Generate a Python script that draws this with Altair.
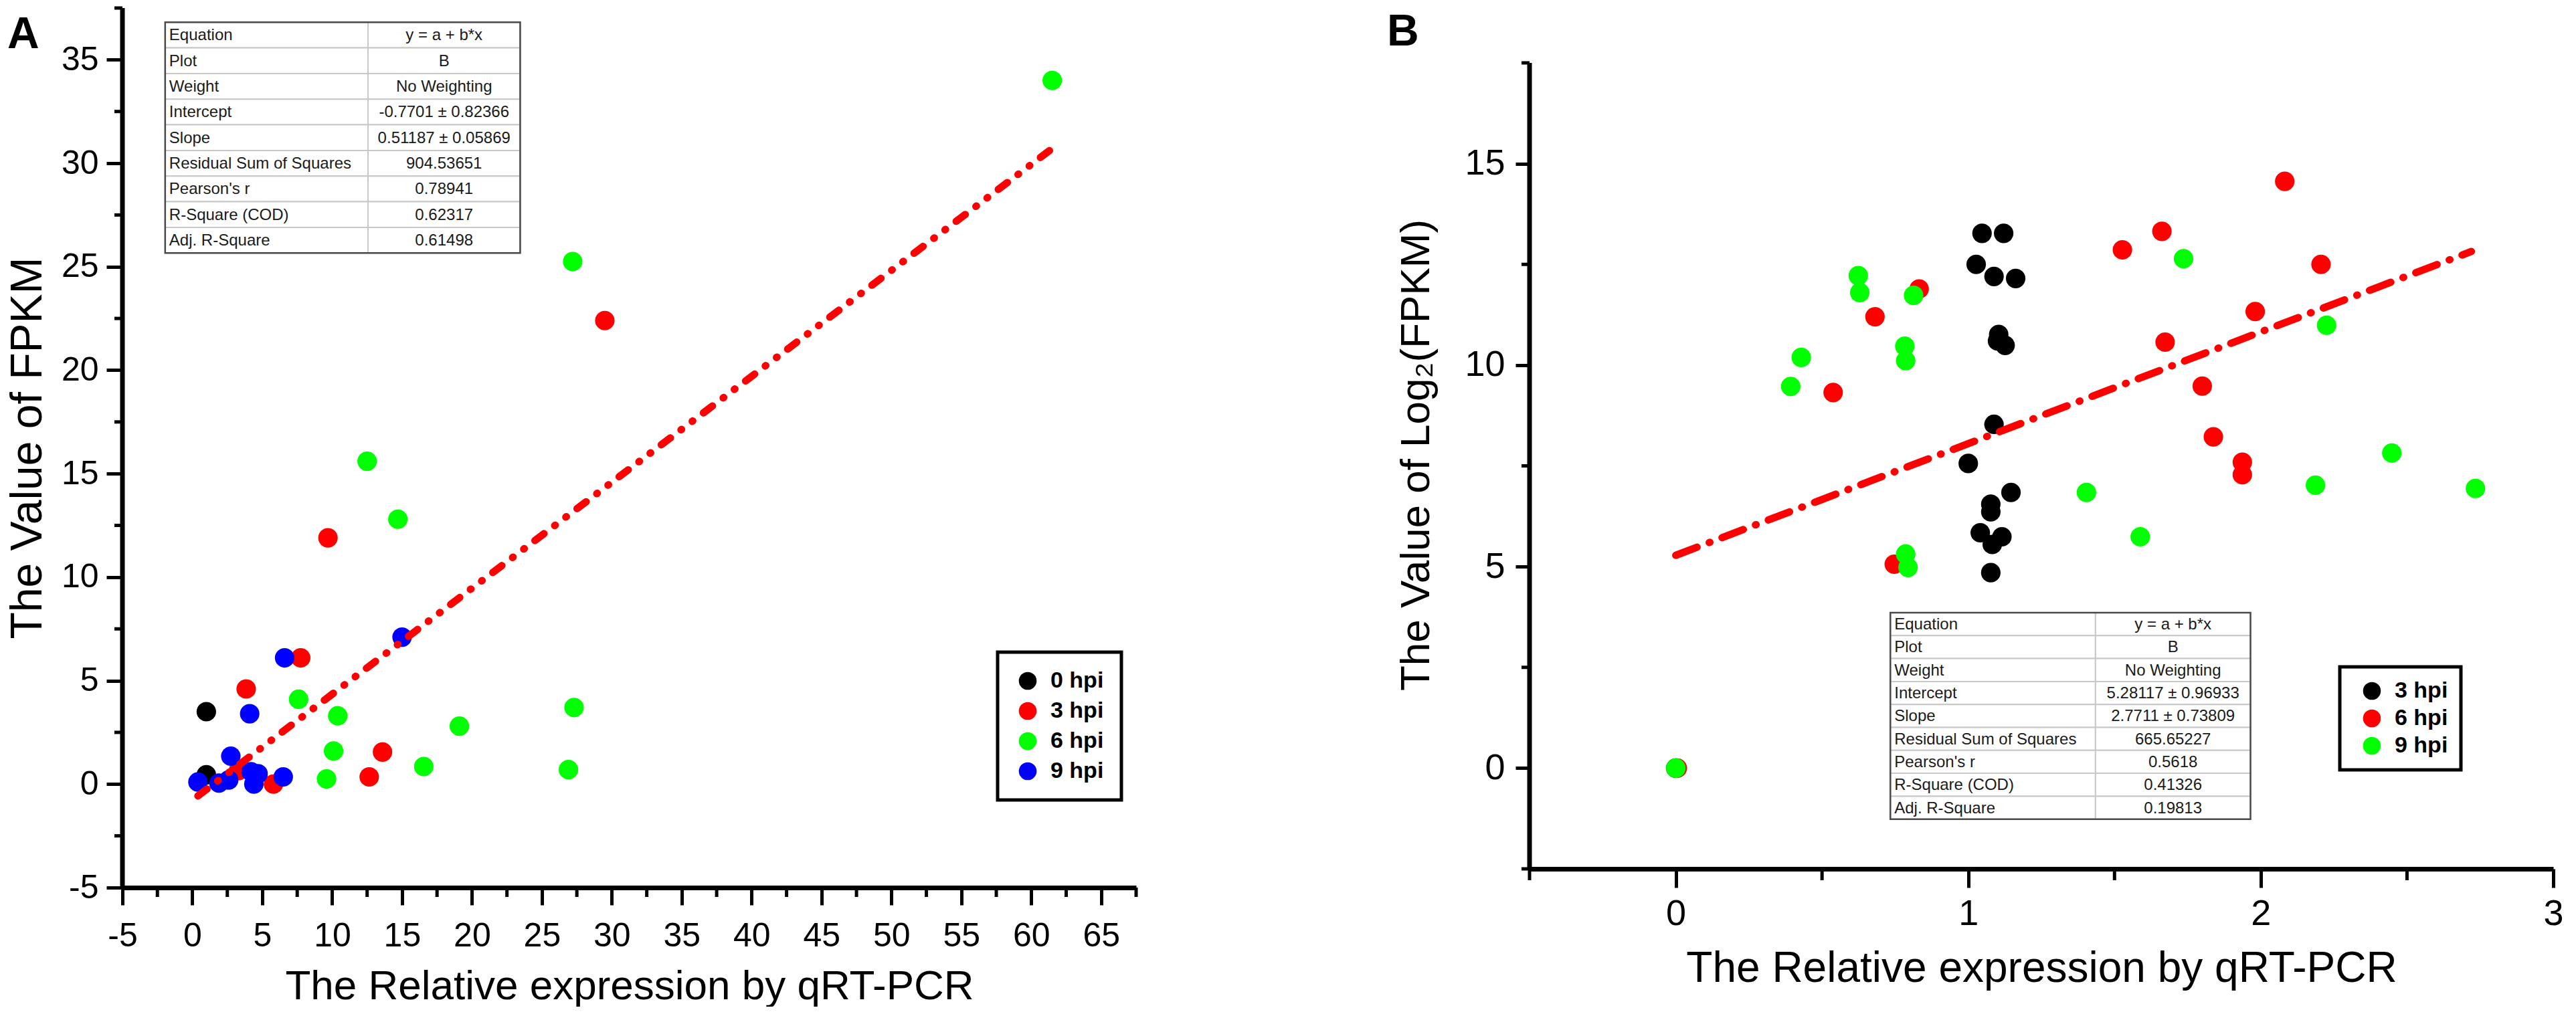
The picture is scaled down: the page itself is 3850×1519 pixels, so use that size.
import altair as alt
import pandas as pd

FONT = "Liberation Sans"
TFONT = "Liberation Sans"

# ---------------- Panel A data ----------------
A_GROUPS = ["0 hpi", "3 hpi", "6 hpi", "9 hpi"]
A_COLORS = ["#000000", "#ff0000", "#00ff00", "#0000ff"]
a0_x = [1.0, 1.0]
a0_y = [3.5, 0.45]
a3_x = [29.5, 9.7, 7.75, 3.85, 13.6, 12.65, 5.8, 3.3]
a3_y = [22.4, 11.9, 6.1, 4.6, 1.55, 0.35, 0.0, 0.65]
a6_x = [61.5, 27.2, 12.5, 14.7, 7.6, 10.4, 27.3, 19.1, 10.1, 16.55, 26.9, 9.6]
a6_y = [34.0, 25.25, 15.6, 12.8, 4.1, 3.3, 3.7, 2.8, 1.6, 0.85, 0.7, 0.25]
a9_x = [15.0, 6.6, 4.1, 2.75, 6.5, 0.4, 1.9, 2.6, 4.2, 4.4, 4.7]
a9_y = [7.1, 6.1, 3.4, 1.35, 0.35, 0.1, 0.05, 0.2, 0.6, 0.0, 0.5]
a_fit_x = [0.4, 61.5]
a_fit_y = [-0.57, 30.71]
A_XTICKS = list(range(-5, 70, 5))
A_YTICKS = list(range(-5, 40, 5))
A_XMINOR = [-2.5 + 5 * i for i in range(15)]
A_YMINOR = [-2.5 + 5 * i for i in range(9)]
A_YLINE = [-5, 37.5]
A_TABLE_KEYS = ["Equation", "Plot", "Weight", "Intercept", "Slope",
                "Residual Sum of Squares", "Pearson's r", "R-Square (COD)", "Adj. R-Square"]
A_TABLE_VALS = ["y = a + b*x", "B", "No Weighting", "-0.7701 ± 0.82366", "0.51187 ± 0.05869",
                "904.53651", "0.78941", "0.62317", "0.61498"]

# ---------------- Panel B data ----------------
B_GROUPS = ["3 hpi", "6 hpi", "9 hpi"]
B_COLORS = ["#000000", "#ff0000", "#00ff00"]
b3_x = [1.047, 1.121, 1.027, 1.088, 1.162, 1.104, 1.100, 1.126, 1.088, 1.000, 1.146,
        1.077, 1.077, 1.041, 1.115, 1.082, 1.077, 0.0]
b3_y = [13.27, 13.27, 12.50, 12.20, 12.15, 10.76, 10.60, 10.49, 8.53, 7.56, 6.84,
        6.55, 6.36, 5.84, 5.74, 5.55, 4.85, 0.0]
b6_x = [2.082, 1.662, 1.527, 2.206, 0.832, 0.681, 1.981, 1.673, 0.538, 1.800, 1.838,
        1.937, 1.937, 0.747, 0.005]
b6_y = [14.56, 13.32, 12.86, 12.50, 11.89, 11.20, 11.33, 10.57, 9.32, 9.48, 8.22,
        7.59, 7.28, 5.06, 0.0]
b9_x = [0.624, 0.629, 0.813, 1.736, 0.429, 0.393, 0.783, 0.786, 2.225, 2.448, 2.734,
        2.187, 1.404, 1.588, 0.786, 0.794, 0.0]
b9_y = [12.22, 11.80, 11.73, 12.64, 10.19, 9.47, 10.47, 10.11, 10.99, 7.82, 6.94,
        7.02, 6.84, 5.74, 5.31, 4.98, 0.0]
b_fit_x = [0.0, 2.72]
b_fit_y = [5.28, 12.82]
B_XTICKS = [0, 1, 2, 3]
B_YTICKS = [0, 5, 10, 15]
B_XMINOR = [-0.5, 0.5, 1.5, 2.5]
B_YMINOR = [-2.5, 2.5, 7.5, 12.5, 17.5]
B_YLINE = [-2.5, 17.5]
B_TABLE_KEYS = ["Equation", "Plot", "Weight", "Intercept", "Slope",
                "Residual Sum of Squares", "Pearson's r", "R-Square (COD)", "Adj. R-Square"]
B_TABLE_VALS = ["y = a + b*x", "B", "No Weighting", "5.28117 ± 0.96933", "2.7711 ± 0.73809",
                "665.65227", "0.5618", "0.41326", "0.19813"]

X_TITLE = "The Relative expression by qRT-PCR"


def points_df(groups, xs, ys):
    rows = []
    for g, xv, yv in zip(groups, xs, ys):
        for a, b in zip(xv, yv):
            rows.append({"x": a, "y": b, "g": g})
    return pd.DataFrame(rows)


def make_panel(df, fit_x, fit_y, dash, xdom, ydom, W, H, xticks, yticks, xminor, yminor, yline,
               ytitle, groups, colors, legend, letter, letter_xy, ax, ay, xminor_len, yminor_len,
               tkeys, tvals, tgeom, tfont):
    xaxis = alt.Axis(values=xticks, title=X_TITLE, tickSize=ax["tick"], tickWidth=5, tickColor="black",
                     domainColor="black", domainWidth=7, labelFontSize=ax["lsize"], labelFont=FONT,
                     labelColor="black", labelPadding=ax["lpad"], labelFlush=False, labelOverlap=False,
                     labelExpr="toString(datum.value)",
                     titleFont=FONT, titleFontSize=ax["tsize"], titleFontWeight="normal",
                     titleColor="black", titlePadding=ax["tpad"], grid=False)
    ykw = {}
    if ay.get("titleY") is not None:
        ykw["titleY"] = ay["titleY"]
    yaxis = alt.Axis(values=yticks, title=ytitle, tickSize=ay["tick"], tickWidth=5, tickColor="black",
                     domain=False, labelFontSize=ay["lsize"], labelFont=FONT,
                     labelColor="black", labelPadding=ay["lpad"], labelFlush=False, labelOverlap=False,
                     labelExpr="toString(datum.value)",
                     titleFont=FONT, titleFontSize=ay["tsize"], titleFontWeight="normal",
                     titleColor="black", titlePadding=ay["tpad"], grid=False, **ykw)
    xs = alt.Scale(domain=xdom, nice=False, zero=False)
    ys = alt.Scale(domain=ydom, nice=False, zero=False)
    X = lambda f: alt.X(f, scale=xs, axis=xaxis)
    Y = lambda f: alt.Y(f, scale=ys, axis=yaxis)

    # points first (carries the axes and legend)
    pts = alt.Chart(df).mark_circle(size=850, opacity=1).encode(
        x=X("x:Q"), y=Y("y:Q"),
        color=alt.Color("g:N", scale=alt.Scale(domain=groups, range=colors), legend=legend),
    )
    # y axis line (drawn as a rule over the axis span)
    yl = alt.Chart(pd.DataFrame({"a": [yline[0]], "b": [yline[1]]})).mark_rule(
        color="black", strokeWidth=7).encode(y=Y("a:Q"), y2="b:Q", x=alt.value(0))
    # minor ticks
    mx = alt.Chart(pd.DataFrame({"v": xminor})).mark_rule(color="black", strokeWidth=5).encode(
        x=X("v:Q"), y=alt.value(H), y2=alt.value(H + xminor_len))
    my = alt.Chart(pd.DataFrame({"v": yminor})).mark_rule(color="black", strokeWidth=5).encode(
        y=Y("v:Q"), x=alt.value(0), x2=alt.value(-yminor_len))
    fit = alt.Chart(pd.DataFrame({"x": fit_x, "y": fit_y})).mark_line(
        color="#ff0000", strokeWidth=11, strokeCap="round", strokeDash=dash).encode(
        x=X("x:Q"), y=Y("y:Q"))

    # statistics table (pixel geometry relative to plot origin -> data units)
    left, div, right, top, rh = tgeom
    fx = lambda px: xdom[0] + px * (xdom[1] - xdom[0]) / W
    fy = lambda py: ydom[1] - py * (ydom[1] - ydom[0]) / H
    cells, tl, tr = [], [], []
    for i, (k, v) in enumerate(zip(tkeys, tvals)):
        t, b = top + i * rh, top + (i + 1) * rh
        cells.append({"x1": fx(left), "x2": fx(div), "y1": fy(t), "y2": fy(b)})
        cells.append({"x1": fx(div), "x2": fx(right), "y1": fy(t), "y2": fy(b)})
        tl.append({"x": fx(left + 6), "y": fy((t + b) / 2 + 1), "t": k})
        tr.append({"x": fx((div + right) / 2), "y": fy((t + b) / 2 + 1), "t": v})
    border = pd.DataFrame([{"x1": fx(left), "x2": fx(right), "y1": fy(top),
                            "y2": fy(top + len(tkeys) * rh)}])
    t1 = alt.Chart(pd.DataFrame(cells)).mark_rect(fill="white", stroke="#c8c8c8", strokeWidth=2).encode(
        x=X("x1:Q"), x2="x2:Q", y=Y("y1:Q"), y2="y2:Q")
    t2 = alt.Chart(border).mark_rect(fillOpacity=0, stroke="#4a4a4a", strokeWidth=2.5).encode(
        x=X("x1:Q"), x2="x2:Q", y=Y("y1:Q"), y2="y2:Q")
    t3 = alt.Chart(pd.DataFrame(tl)).mark_text(align="left", baseline="middle", fontSize=tfont,
                                               font=TFONT, color="#1a1a1a").encode(
        x=X("x:Q"), y=Y("y:Q"), text="t:N")
    t4 = alt.Chart(pd.DataFrame(tr)).mark_text(align="center", baseline="middle", fontSize=tfont,
                                               font=TFONT, color="#1a1a1a").encode(
        x=X("x:Q"), y=Y("y:Q"), text="t:N")
    let = alt.Chart(pd.DataFrame({"t": [letter]})).mark_text(
        align="left", baseline="top", fontSize=66, fontWeight="bold", font=FONT, color="black").encode(
        x=alt.value(letter_xy[0]), y=alt.value(letter_xy[1]), text="t:N")
    return alt.layer(pts, yl, mx, my, fit, t1, t2, t3, t4, let).properties(width=W, height=H)


def legend_for(x, y, row_pad, sym_off, pad, extra):
    return alt.Legend(orient="none", legendX=x, legendY=y, title=None, symbolType="circle",
                      symbolSize=707, symbolStrokeWidth=0, symbolOpacity=1, labelFontSize=34,
                      labelFontWeight="bold", labelFont=FONT, labelColor="black", labelOffset=17,
                      labelExpr="datum.label + '" + extra + "'",
                      padding=pad, rowPadding=row_pad, symbolOffset=sym_off, strokeColor="black",
                      fillColor="white")


# ---------- Panel A ----------
WA, HA = 1515, 1315
XA, YA = [-5, 67.5], [-5, 37.5]
dfA = points_df(A_GROUPS, [a0_x, a3_x, a6_x, a9_x], [a0_y, a3_y, a6_y, a9_y])
chartA = make_panel(
    dfA, a_fit_x, a_fit_y, [17, 20, 1, 20, 1, 20], XA, YA, WA, HA, A_XTICKS, A_YTICKS,
    A_XMINOR, A_YMINOR, A_YLINE, "The Value of FPKM", A_GROUPS, A_COLORS,
    legend_for(1308, 963, 11, 2, 26, ""), "A", (-172, 8),
    dict(tick=26, lsize=50, lpad=21, tsize=62, tpad=20),
    dict(tick=24, lsize=50, lpad=12, tsize=66, tpad=16),
    14, 12, A_TABLE_KEYS, A_TABLE_VALS, (64 * WA / 1519, 368 * WA / 1519, 596 * WA / 1519,
                                         21.4 * HA / 1324, 38.6 * HA / 1324), 24)

# ---------- Panel B ----------
# plot area reaches the top of panel A's; the drawn y axis line stops at 17.5
WB, HB = 1530, 1287
XB, YB = [-0.5, 3.0], [-2.5, 18.861]
dfB = points_df(B_GROUPS, [b3_x, b6_x, b9_x], [b3_y, b6_y, b9_y])
sxB = WB / 1552
chartB = make_panel(
    dfB, b_fit_x, b_fit_y, [34, 19.5, 1, 19.5], XB, YB, WB, HB, B_XTICKS, B_YTICKS,
    B_XMINOR, B_YMINOR, B_YLINE, "The Value of Log₂(FPKM)", B_GROUPS, B_COLORS,
    legend_for(1211, 985, 7, 12, 19, "\u2002"), "B", (-213, 4),
    dict(tick=28, lsize=54, lpad=12, tsize=64, tpad=23),
    dict(tick=21, lsize=54, lpad=16, tsize=62, tpad=40, titleY=668),
    17, 12, B_TABLE_KEYS, B_TABLE_VALS, (547 * sxB, 858 * sxB, 1093 * sxB, 904, 34.3), 24)

chart = alt.hconcat(chartA, chartB, spacing=372).resolve_scale(color="independent").properties(
    padding=0
).configure_view(stroke=None).configure_legend(strokeWidth=5)

chart.save("out.html", embed_options={"renderer": "svg", "actions": False})
